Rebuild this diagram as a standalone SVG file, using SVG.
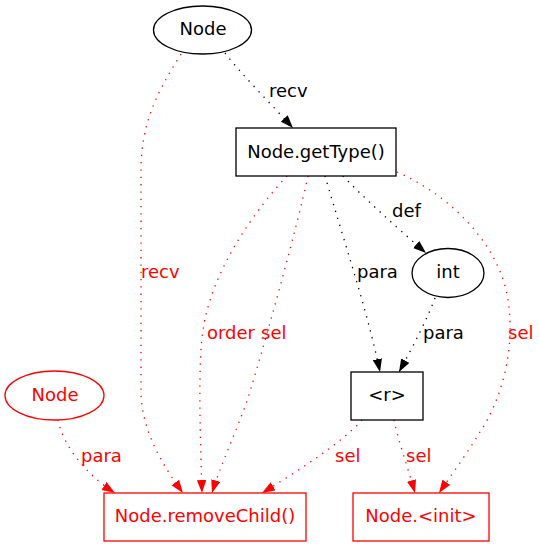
<svg xmlns="http://www.w3.org/2000/svg" width="540" height="547" viewBox="0 0 540 547">
<style>
text{font-family:"DejaVu Sans","Liberation Sans",sans-serif;font-size:18px}
.c{text-anchor:middle}
.k{fill:#000}
.r{fill:#ff0000}
.nk{fill:#fff;stroke:#000;stroke-width:1.3}
.nr{fill:#fff;stroke:#ff0000;stroke-width:1.3}
.ek{fill:none;stroke:#000;stroke-width:1.3;stroke-dasharray:1.3,6;marker-end:url(#ak)}
.er{fill:none;stroke:#ff0000;stroke-width:1.3;stroke-dasharray:1.3,6;marker-end:url(#ar)}
</style>
<defs>
<marker id="ak" markerUnits="userSpaceOnUse" markerWidth="14" markerHeight="10" refX="13" refY="4.7" orient="auto"><path d="M0,0L13,4.7L0,9.4z" fill="#000"/></marker>
<marker id="ar" markerUnits="userSpaceOnUse" markerWidth="14" markerHeight="10" refX="13" refY="4.7" orient="auto"><path d="M0,0L13,4.7L0,9.4z" fill="#ff0000"/></marker>
</defs>
<rect width="540" height="547" fill="#fff"/>
<g id="edges">
<path class="ek" d="M225,53C242,75 270,103 293,128"/>
<text class="k" x="269" y="97">recv</text>
<path class="er" d="M181,54C160,88 141,120 141,170L141,390C141,428 160,462 183,493"/>
<text class="r" x="141" y="278">recv</text>
<path class="er" d="M287,176C258,207 212,268 203,330C198,362 200,430 202,493"/>
<text class="r" x="207" y="339">order</text>
<path class="er" d="M308,176C296,230 272,318 252,385C242,420 222,460 212,493"/>
<text class="r" x="261" y="339">sel</text>
<path class="ek" d="M325,176C335,210 352,265 362,300C369,325 375,348 380,372"/>
<text class="k" x="357" y="278">para</text>
<path class="ek" d="M343,176C362,196 395,226 426,253"/>
<text class="k" x="392" y="217">def</text>
<path class="ek" d="M435,298C428,317 414,345 399,372"/>
<text class="k" x="423" y="339">para</text>
<path class="er" d="M397,172C450,195 500,245 508,300C516,352 500,402 480,432C468,452 452,474 439,493"/>
<text class="r" x="508" y="339">sel</text>
<path class="er" d="M362,420C345,440 300,470 262,493"/>
<text class="r" x="335" y="462">sel</text>
<path class="er" d="M394,420C398,440 408,468 415,493"/>
<text class="r" x="406" y="462">sel</text>
<path class="er" d="M58,420C63,445 85,474 115,493"/>
<text class="r" x="81" y="462">para</text>
</g>
<g id="node_top"><ellipse class="nk" cx="202.5" cy="30" rx="49" ry="24"/><text class="c k" x="203" y="35">Node</text></g>
<g id="node_getType"><rect class="nk" x="236" y="128" width="160" height="48"/><text class="c k" x="316" y="157.5">Node.getType()</text></g>
<g id="node_int"><ellipse class="nk" cx="448" cy="273" rx="36" ry="24.5"/><text class="c k" x="448" y="278">int</text></g>
<g id="node_r"><rect class="nk" x="351" y="372" width="72" height="48"/><text class="c k" x="387" y="401">&lt;r&gt;</text></g>
<g id="node_red"><ellipse class="nr" cx="54.5" cy="395.5" rx="49.5" ry="24.5"/><text class="c r" x="55" y="401">Node</text></g>
<g id="node_removeChild"><rect class="nr" x="104" y="493" width="202" height="48"/><text class="c r" x="205" y="522">Node.removeChild()</text></g>
<g id="node_init"><rect class="nr" x="353" y="493" width="136" height="48"/><text class="c r" x="421" y="522">Node.&lt;init&gt;</text></g>
</svg>
